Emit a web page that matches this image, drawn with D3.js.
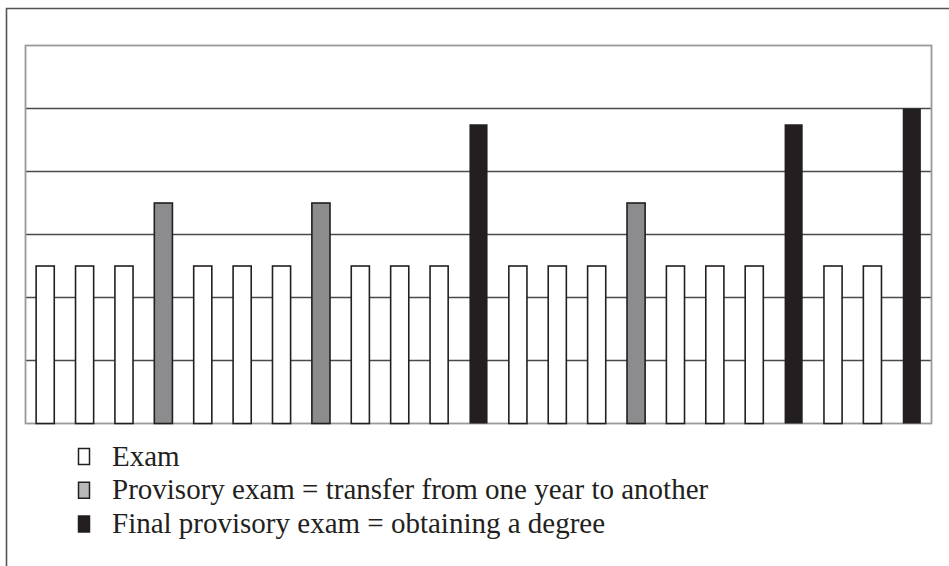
<!DOCTYPE html>
<html>
<head>
<meta charset="utf-8">
<script src="https://cdn.jsdelivr.net/npm/d3@7"></script>
<style>
  html, body { margin: 0; padding: 0; background: #fff; }
  svg { display: block; }
  .lgtext { font-family: "Liberation Serif", "DejaVu Serif", serif; }
</style>
</head>
<body>
<script>
// ---- data ----
const categories = d3.range(1, 24).map(String);
const types = ["exam","exam","exam","prov","exam","exam","exam","prov","exam","exam","exam","final",
               "exam","exam","exam","prov","exam","exam","exam","final","exam","exam","final"];
const values = [2.5,2.5,2.5,3.5,2.5,2.5,2.5,3.5,2.5,2.5,2.5,4.75,
                2.5,2.5,2.5,3.5,2.5,2.5,2.5,4.75,2.5,2.5,5];
const gridTicks = [1, 2, 3, 4, 5];
const legendKeys = ["exam", "prov", "final"];
const legendLabels = ["Exam", "Provisory exam = transfer from one year to another", "Final provisory exam = obtaining a degree"];

// ---- styles ----
const fills = { exam: "#ffffff", prov: "#8c8c8e", final: "#231f20" };
const legendFills = { exam: "#ffffff", prov: "#b8b8ba", final: "#231f20" };

const W = 949, H = 566;
const svg = d3.select("body").append("svg").attr("width", W).attr("height", H);

// outer frame (top + left)
svg.append("path")
  .attr("d", "M6.5,566 L6.5,8.5 L949,8.5")
  .attr("fill", "none").attr("stroke", "#555").attr("stroke-width", 1.6);

const plot = { left: 25.5, right: 931.5, top: 45.5, bottom: 423.5 };

const x = d3.scaleBand().domain(categories)
  .range([plot.left, plot.right]).paddingInner(0.54).paddingOuter(0.27);
const y = d3.scaleLinear().domain([0, 6]).range([plot.bottom, plot.top]);

// gridlines
svg.append("g").selectAll("line").data(gridTicks).join("line")
  .attr("x1", plot.left).attr("x2", plot.right)
  .attr("y1", d => y(d)).attr("y2", d => y(d))
  .attr("stroke", "#4a4a4a").attr("stroke-width", 1.5);

// plot border
svg.append("rect")
  .attr("x", plot.left).attr("y", plot.top)
  .attr("width", plot.right - plot.left).attr("height", plot.bottom - plot.top)
  .attr("fill", "none").attr("stroke", "#9a9a9c").attr("stroke-width", 1.8);

// bars
svg.append("g").selectAll("rect").data(values).join("rect")
  .attr("x", (d, i) => x(categories[i]))
  .attr("width", x.bandwidth())
  .attr("y", d => y(d))
  .attr("height", d => y(0) - y(d))
  .attr("fill", (d, i) => fills[types[i]])
  .attr("stroke", "#231f20")
  .attr("stroke-width", (d, i) => types[i] === "final" ? 0 : 1.6);

// legend
const lg = svg.append("g").attr("transform", "translate(78,0)");
const rowY = d3.scalePoint().domain(legendKeys).range([465.5, 533]);
const rows = lg.selectAll("g").data(legendKeys).join("g")
  .attr("transform", d => `translate(0,${rowY(d)})`);
rows.append("rect")
  .attr("x", 0.5).attr("y", -17).attr("width", 11).attr("height", 16)
  .attr("fill", d => legendFills[d])
  .attr("stroke", "#231f20").attr("stroke-width", 1.5);
rows.append("text")
  .attr("class", "lgtext")
  .attr("x", 34).attr("y", 0)
  .attr("font-size", 29)
  .attr("fill", "#231f20")
  .text((d, i) => legendLabels[i]);
</script>
</body>
</html>
